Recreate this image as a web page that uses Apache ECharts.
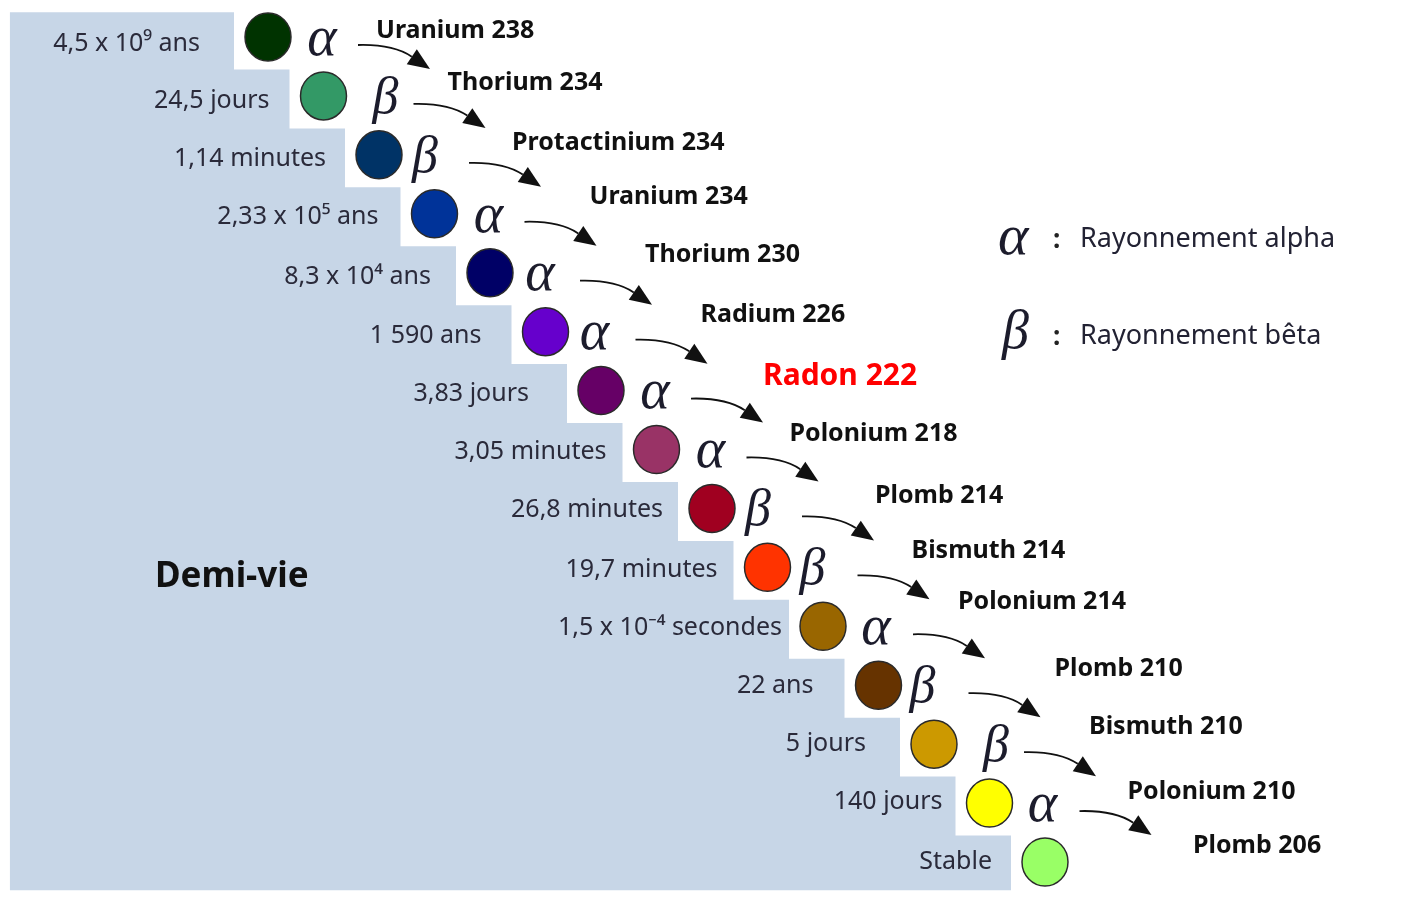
<!DOCTYPE html>
<html>
<head>
<meta charset="utf-8">
<script src="https://cdn.jsdelivr.net/npm/echarts@6/dist/echarts.min.js"></script>
<style>
html,body{margin:0;padding:0;background:#fff;}
#chart{width:1408px;height:905px;}
</style>
</head>
<body>
<div id="chart"></div>
<script>
// ---- data ----
const nuclides = ['Uranium 238','Thorium 234','Protactinium 234','Uranium 234','Thorium 230','Radium 226','Radon 222','Polonium 218','Plomb 214','Bismuth 214','Polonium 214','Plomb 210','Bismuth 210','Polonium 210','Plomb 206'];
const halfLives = ['4,5 x 10⁹ ans','24,5 jours','1,14 minutes','2,33 x 10⁵ ans','8,3 x 10⁴ ans','1 590 ans','3,83 jours','3,05 minutes','26,8 minutes','19,7 minutes','1,5 x 10⁻⁴ secondes','22 ans','5 jours','140 jours','Stable'];
const decays = ['α','β','β','α','α','α','α','α','β','β','α','β','β','α'];
const highlighted = 'Radon 222';
const legendItems = [['α','Rayonnement alpha'],['β','Rayonnement bêta']];
const axisTitle = 'Demi-vie';

// ---- styles / layout ----
const nuclideColors = ['#003300','#339966','#003366','#003399','#000066','#6600cc','#660066','#993366','#a00020','#ff3300','#996600','#663300','#cc9900','#ffff00','#99ff66'];
const halfLifeDx = [-68,-54,-53,-56,-59,-64,-72,-50,-49,-50,-41,-65,-68,-47,-53];
const halfLifeDy = [7,5,4,3,4,4,3,2,1,3,2,1,0,-1,0];
const nameDx = [108,124,133,155,155,155,162,133,163,144,135,176,155,138,148];
const nameDy = [-6,-13,-12,-17,-18,-17,-14,-16,-13,-16,-24,-16,-17,-11,-16];
const greekDx = [54,62,46,54,50,49,54,54,46,45,53,44,62,53];
const stepBg = '#c7d6e7';
const textFont = "'Noto Sans', 'Open Sans', sans-serif";
const greekFont = "'Liberation Serif', 'DejaVu Serif', serif";

const rowIdx = nuclides.map((_, i) => [i, i]);

const chart = echarts.init(document.getElementById('chart'));

const option = {
  animation: false,
  backgroundColor: '#ffffff',
  grid: { left: 268, right: 363, top: 37, bottom: 43, containLabel: false },
  xAxis: { type: 'value', min: 0, max: nuclides.length - 1, show: false },
  yAxis: { type: 'value', min: 0, max: nuclides.length - 1, inverse: true, show: false },
  graphic: [
    { type: 'text', left: 155, top: 560, z: 10,
      style: { text: axisTitle, font: "bold 35px " + textFont, fill: '#111111' } },
    { type: 'text', left: 998, top: 210, z: 10,
      style: { text: legendItems[0][0], font: "italic 58px " + greekFont, fill: '#1c1c2c' } },
    { type: 'text', left: 1053, top: 228, z: 10,
      style: { text: ':', font: "bold 26px " + textFont, fill: '#222' } },
    { type: 'text', left: 1080, top: 226, z: 10,
      style: { text: legendItems[0][1], font: "27px " + textFont, fill: '#222233' } },
    { type: 'text', left: 1002, top: 307, z: 10,
      style: { text: legendItems[1][0], font: "italic 54px " + greekFont, fill: '#1c1c2c' } },
    { type: 'text', left: 1053, top: 325, z: 10,
      style: { text: ':', font: "bold 26px " + textFont, fill: '#222' } },
    { type: 'text', left: 1080, top: 323, z: 10,
      style: { text: legendItems[1][1], font: "27px " + textFont, fill: '#222233' } }
  ],
  series: [
    {
      // staircase background
      type: 'custom',
      name: 'steps',
      clip: false,
      silent: true,
      z: 1,
      data: [[0, 0]],
      renderItem: function (params, api) {
        const n = nuclides.length;
        const c = rowIdx.map(p => api.coord(p));
        const left = api.coord([-4.65, 0])[0];
        const top = api.coord([0, -0.42])[1];
        const bottom = api.coord([0, n - 1 + 0.48])[1];
        const pts = [[left, top]];
        for (let i = 0; i < n; i++) {
          const yt = i === 0 ? top : (c[i - 1][1] + c[i][1]) / 2 + 3;
          const yb = i === n - 1 ? bottom : (c[i][1] + c[i + 1][1]) / 2 + 3;
          pts.push([c[i][0] - 34, yt]);
          pts.push([c[i][0] - 34, yb]);
        }
        pts.push([left, bottom]);
        return { type: 'polygon', shape: { points: pts }, style: { fill: stepBg } };
      }
    },
    {
      // nuclide circles
      type: 'scatter',
      name: 'nuclides',
      z: 5,
      symbol: 'circle',
      symbolSize: [46, 48],
      data: rowIdx,
      itemStyle: {
        color: p => nuclideColors[p.dataIndex],
        borderColor: '#2a2a2a',
        borderWidth: 1.5,
        opacity: 1
      }
    },
    {
      // labels, decay symbols and arrows
      type: 'custom',
      name: 'annotations',
      clip: false,
      silent: true,
      z: 6,
      data: rowIdx,
      renderItem: function (params, api) {
        const i = params.dataIndex;
        const p = api.coord([api.value(0), api.value(1)]);
        const cx = p[0], cy = p[1];
        const children = [];
        children.push({
          type: 'text',
          style: {
            text: halfLives[i], x: cx + halfLifeDx[i], y: cy + halfLifeDy[i],
            align: 'right', verticalAlign: 'middle',
            font: "25px " + textFont, fill: '#2a2a3a'
          }
        });
        const isHi = nuclides[i] === highlighted;
        children.push({
          type: 'text',
          style: {
            text: nuclides[i], x: cx + nameDx[i], y: cy + nameDy[i],
            align: 'left', verticalAlign: 'middle',
            font: (isHi ? "bold 30px " : "bold 25px ") + textFont,
            fill: isHi ? '#ff0000' : '#111111'
          }
        });
        if (i < decays.length) {
          children.push({
            type: 'text',
            style: {
              text: decays[i], x: cx + greekDx[i], y: cy + 3,
              align: 'center', verticalAlign: 'middle',
              font: "italic " + (decays[i] === 'α' ? 56 : 52) + "px " + greekFont, fill: '#1c1c2c'
            }
          });
          const sx = cx + 90, sy = cy + 8;
          const qx = cx + 125, qy = cy + 7;
          const ex = cx + 162, ey = cy + 32;
          let dx = ex - qx, dy = ey - qy;
          const len = Math.sqrt(dx * dx + dy * dy);
          dx /= len; dy /= len;
          const L = 22, w = 9;
          const bx = ex - L * dx, by = ey - L * dy;
          children.push({
            type: 'bezierCurve',
            shape: { x1: sx, y1: sy, x2: bx, y2: by, cpx1: qx, cpy1: qy },
            style: { stroke: '#111', lineWidth: 1.8, fill: null }
          });
          children.push({
            type: 'polygon',
            shape: { points: [[ex, ey], [bx - w * dy, by + w * dx], [bx + w * dy, by - w * dx]] },
            style: { fill: '#111' }
          });
        }
        return { type: 'group', children: children };
      }
    }
  ]
};

chart.setOption(option);
</script>
</body>
</html>
